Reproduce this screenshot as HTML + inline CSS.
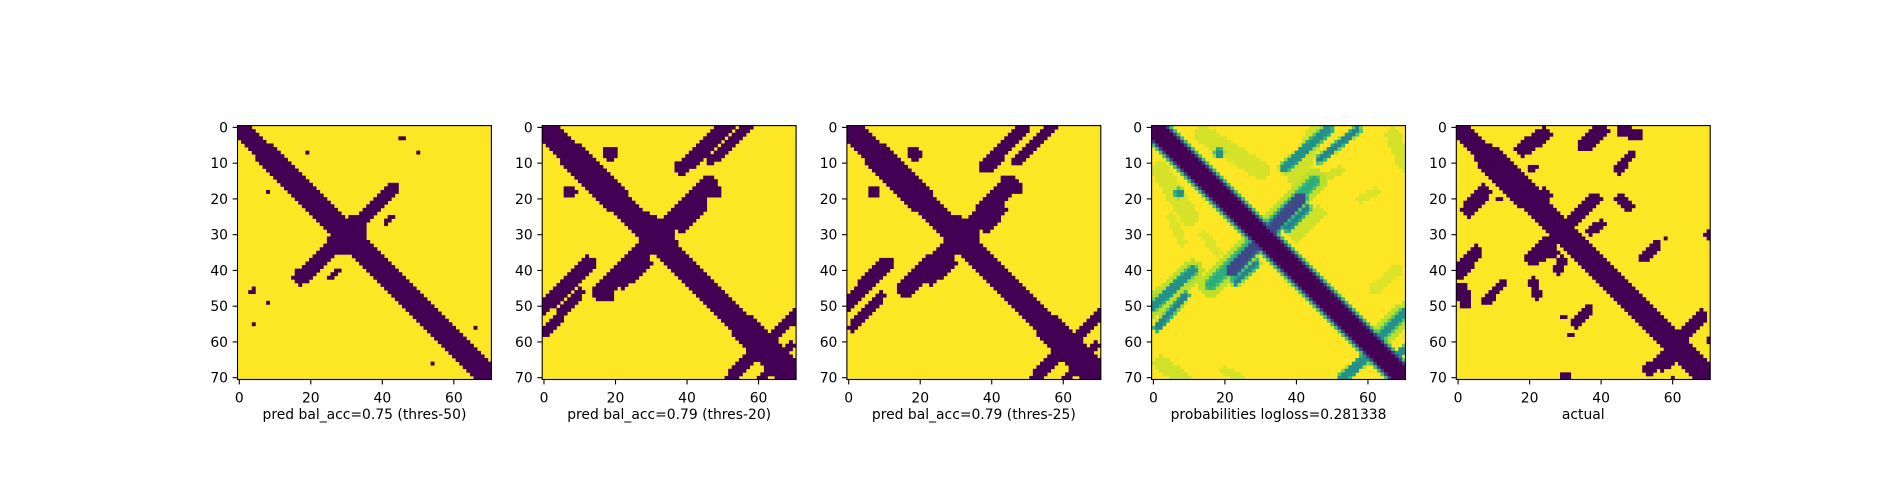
<!DOCTYPE html>
<html><head><meta charset="utf-8"><title>Contact maps</title>
<style>
html,body{margin:0;padding:0;background:#fff;}
svg{display:block;font-family:"DejaVu Sans","Liberation Sans",sans-serif;}
</style></head>
<body>
<svg id="fig" width="1900" height="500" viewBox="0 0 1900 500" xmlns="http://www.w3.org/2000/svg"></svg>
<script>
// ---- data ----
const gridSize = 71;
const xTickValues = [0, 20, 40, 60];
const yTickValues = [0, 10, 20, 30, 40, 50, 60, 70];
const panelTitles = ["pred bal_acc=0.75 (thres-50)", "pred bal_acc=0.79 (thres-20)", "pred bal_acc=0.79 (thres-25)", "probabilities logloss=0.281338", "actual"];
// strokes: [col0,row0,col1,row1,halfWidth] (binary panels) ; dark where inside
const p1Strokes = [
 [0,0,8,8,2.6],[8,8,22,22,3.5],[22,22,55,55,3.3],[55,55,70,70,3.0],[29,29,32,32,4.0],
 [43,17,33,27,1.9],[33,27,27,33,2.9],[27,33,17,42,2.2],
 [45.5,3.3,45.5,3.3,0.8],[51.5,5.1,51.5,5.1,0.5],[49.6,6.7,49.6,6.7,0.5],[18.6,6.7,18.6,6.7,0.5],[7.7,17.9,7.7,17.9,0.5],
 [42.6,25.3,40.7,27.3,0.7],[27.5,40.4,25.6,42.2,0.7],[4,45,3.6,46,0.8],[7.7,49.3,7.7,49.3,0.5],[5.6,51.4,5.6,51.4,0.5],
 [4.5,54.5,3.6,55.4,0.6],[66,55.8,66,55.8,0.5],[54.2,65.8,54.2,65.8,0.5]
];
const p2Strokes = [
 [0,0,8,8,2.9],[8,8,20,20,4.1],[20,20,55,55,3.4],[55,55,70,70,3.6],[29,28,33,32,4.1],
 [46,16,34,28,2.8],[28,34,16,46,2.8],[44.6,22,38.5,28.7,1.3],[29,38,22,44,1.3],
 [51,0,38.5,11.4,2.1],[57,0,46.4,9.5,1.4],[12.3,38,0,50,2.1],[10,46,0.7,57,1.4],
 [18.4,7.2,18.4,7.2,2.1],[7.2,18,7.2,18,2.0],[70.7,52,64.7,57.7,1.7],[58,63.7,52.5,70,1.8],[69,61,61,70,1.2],
 [46,17,48,18,1.9],[17,46,18,47,1.7]
];
const p3Strokes = [
 [0,0,8,8,2.9],[8,8,20,20,4.0],[20,20,55,55,3.4],[55,55,70,70,3.6],[29,28,33,32,3.9],
 [45,16,34,28,2.6],[28,34,16,45,2.6],[43,23,38.5,28.7,1.2],[29,38,23,43,1.2],
 [49,0,38.5,11,1.9],[57,0,47,9.5,1.4],[10.5,38,0,49,2.0],[9,47,1,56,1.4],
 [18.4,7.2,18.4,7.2,2.0],[7.2,18.2,7.2,18.2,1.8],[70.5,52,64.7,57.7,1.6],[58,63.7,52.5,70,1.7],[69,61,61,70,1.2],
 [44,15,47,17,1.6]
];
// probabilities: [col0,row0,col1,row1,halfWidth,value]
const p4Strokes = [
 [0,0,70,70,2.6,0.0],
 [45,15,16,44,1.3,0.62],[41,20,22,40,1.4,0.22],[43,22.6,37.6,28.2,0.7,0.45],[28.7,38,23,43.2,0.7,0.45],
 [48.8,0.5,36.6,11.4,1.1,0.5],[57,0.6,46.4,9,0.7,0.45],[11,40,0,50,1.1,0.5],[9,47,1,56,0.7,0.45],
 [18.4,7.2,18.4,7.2,1.1,0.5],[7.2,18.4,7.2,18.4,1.1,0.5],[70,52,62,60,1.1,0.5],[60,64,53,70,1.1,0.5],[70,62,64,68,0.7,0.5],
 [14,2,30,12,2.5,0.94],[2,12,10,25,2.5,0.94],[45,2,40,14,2.5,0.93],[67,2,70,10,2.0,0.94],[2,66,8,70,2.0,0.93],
 [20,68,24,70,1.2,0.94],[62,45,68,40,1.5,0.95],[5,25,8,32,1.2,0.95],[40,30,46,24,2.0,0.93],[24,38,30,32,2.0,0.93],
 [14,30,18,35,1.2,0.95],[58,20,62,18,1.0,0.95],[36,40,38,44,0.8,0.95],[48,14,52,12,1.2,0.93],
 [45,15,16,44,3.2,0.9],[70,52,62,60,3.0,0.9],[11,40,0,50,3.0,0.9]
];
const p5Strokes = [
 [0,0,8,8,2.6],[8,8,20,20,3.6],[20,20,55,55,3.2],[55,55,70,70,3.4],[29,29,32,32,3.5],
 [37.6,20.7,20.8,36.6,1.9],[68,52.5,58,63.7,1.8],[58,64,53.5,67.5,1.6],
 [24,2,18,6,2.1],[40,0.7,35.7,4.9,2.1],[46,1,50,2,1.6],[48.8,7.2,44.6,11.9,1.2],[20.5,11.5,21.5,11,0.9],
 [7,18,3,23,2.1],[11.4,19.8,11.4,19.8,0.7],[45,20,48,22,1.4],[40,27,37,29,1.2],[4.9,34.8,0.2,40.8,1.9],
 [22,36,27,35,1.4],[29,37,28,40,1.3],[1,45,2,49,1.8],[12.3,43.6,7.7,48.8,1.2],[21,43,22,47,1.4],
 [36.6,51,32.9,54.9,1.3],[29.5,53,29.5,53,0.6],[31.5,57.7,31.5,57.7,0.7],[55.3,32.9,51.6,36.6,1.3],
 [53.5,29.6,53.5,29.6,0.6],[57.7,31,57.7,31,0.7],[70,30,70,30,1.3],[70.3,59.5,70.3,59.5,0.7],
 [57,67,61,64,1.4],[30,69.5,30,70,1.3],[60,70,60,70,0.7],[20,21,24,19,2.0],[38,21,39,20,1.4]
];
const panelStrokes = [p1Strokes, p2Strokes, p3Strokes, p4Strokes, p5Strokes];
const panelIsProb = [false, false, false, true, false];

// ---- layout ----
const NS = "http://www.w3.org/2000/svg";
const svg = document.getElementById("fig");
const panelLeft = [237.5, 542.2, 846.9, 1151.6, 1456.3];
const axTop = 125.6, axSize = 253.9;
const cell = axSize / gridSize;
const falloff = 0.75;
function xScale(p, c) { return panelLeft[p] + (c + 0.5) * cell; }
function yScale(r) { return axTop + (r + 0.5) * cell; }

const vir = [[68,1,84],[72,40,120],[62,74,137],[49,104,142],[38,130,142],[31,158,137],[53,183,121],[109,205,89],[180,222,44],[253,231,37]];
function viridis(v) {
  v = Math.max(0, Math.min(1, v));
  const t = v * (vir.length - 1), i = Math.min(vir.length - 2, Math.floor(t)), f = t - i;
  const a = vir[i], b = vir[i + 1];
  return "rgb(" + a.map((x, k) => Math.round(x + (b[k] - x) * f)).join(",") + ")";
}
function segDist(px, py, s) {
  const dx = s[2] - s[0], dy = s[3] - s[1];
  const L = dx * dx + dy * dy;
  let t = L ? ((px - s[0]) * dx + (py - s[1]) * dy) / L : 0;
  t = Math.max(0, Math.min(1, t));
  const qx = s[0] + t * dx - px, qy = s[1] + t * dy - py;
  return Math.sqrt(qx * qx + qy * qy);
}
function mk(tag, attrs) {
  const e = document.createElementNS(NS, tag);
  for (const k in attrs) e.setAttribute(k, attrs[k]);
  return e;
}

for (let p = 0; p < 5; p++) {
  const g = mk("g", {});
  
  
  svg.appendChild(g);
  const bg = mk("rect", {x: panelLeft[p], y: axTop, width: axSize, height: axSize, fill: "#fde725"});
  
  
  g.appendChild(bg);
  const strokes = panelStrokes[p];
  for (let r = 0; r < gridSize; r++) {
    for (let c = 0; c < gridSize; c++) {
      let v = 1;
      for (const s of strokes) {
        const d = segDist(c, r, s);
        if (panelIsProb[p]) {
          const val = d <= s[4] ? s[5] : s[5] + (d - s[4]) * falloff;
          if (val < v) v = val;
        } else if (d <= s[4]) { v = 0; break; }
      }
      if (v >= 0.985) continue;
      const x0 = panelLeft[p] + c * cell, y0 = axTop + r * cell;
      const rc = mk("rect", {x: x0.toFixed(2), y: y0.toFixed(2), width: (cell + 0.35).toFixed(2), height: (cell + 0.35).toFixed(2), fill: panelIsProb[p] ? viridis(v) : "#440154"});
      
      
      g.appendChild(rc);
    }
  }
  const frame = mk("rect", {x: panelLeft[p], y: axTop, width: axSize, height: axSize, fill: "none", stroke: "#000", "stroke-width": 1.1});
  
  
  g.appendChild(frame);
  for (const t of yTickValues) {
    const y = yScale(t);
    const tk = mk("line", {x1: panelLeft[p] - 4.9, x2: panelLeft[p], y1: y, y2: y, stroke: "#000", "stroke-width": 1.1});
    
    
    g.appendChild(tk);
    const tx = mk("text", {x: panelLeft[p] - 9.5, y: y + 5, "text-anchor": "end", "font-size": "13.9px", fill: "#000"});
    tx.textContent = t;
    
    
    g.appendChild(tx);
  }
  for (const t of xTickValues) {
    const x = xScale(p, t);
    const tk = mk("line", {x1: x, x2: x, y1: axTop + axSize, y2: axTop + axSize + 4.9, stroke: "#000", "stroke-width": 1.1});
    
    
    g.appendChild(tk);
    const tx = mk("text", {x: x, y: axTop + axSize + 23, "text-anchor": "middle", "font-size": "13.9px", fill: "#000"});
    tx.textContent = t;
    
    
    g.appendChild(tx);
  }
  const lab = mk("text", {x: panelLeft[p] + axSize / 2, y: 419, "text-anchor": "middle", "font-size": "13.9px", fill: "#000"});
  lab.textContent = panelTitles[p];
  
  
  g.appendChild(lab);
}
</script>
</body></html>
